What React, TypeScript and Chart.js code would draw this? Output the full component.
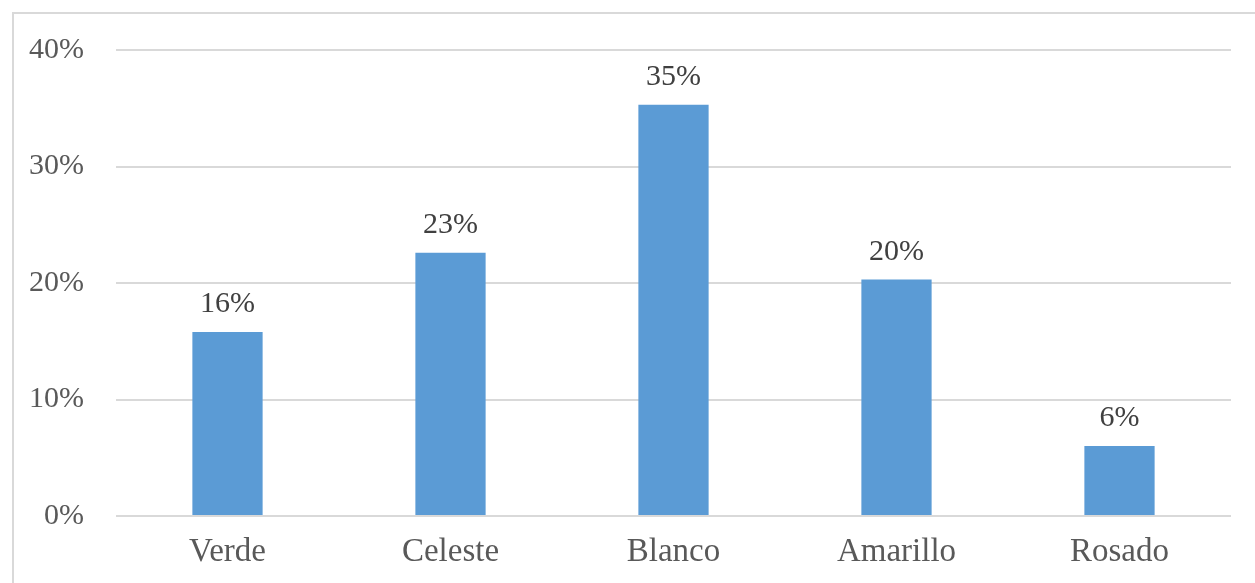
import React, { useEffect, useRef } from "react";
import { Chart, registerables } from "chart.js";

Chart.register(...registerables);

const categories = ["Verde", "Celeste", "Blanco", "Amarillo", "Rosado"];
const values = [15.8, 22.6, 35.3, 20.3, 6.0];
const valueLabels = ["16%", "23%", "35%", "20%", "6%"];
const yTicks = [0, 10, 20, 30, 40];

const FONT = "'Liberation Serif', 'Times New Roman', serif";

const labelPlugin = {
  id: "valueLabels",
  afterDatasetsDraw(chart: any) {
    const ctx = chart.ctx;
    const meta = chart.getDatasetMeta(0);
    ctx.save();
    ctx.font = `30px ${FONT}`;
    ctx.fillStyle = "#404040";
    ctx.textAlign = "center";
    ctx.textBaseline = "alphabetic";
    meta.data.forEach((bar: any, i: number) => {
      ctx.fillText(valueLabels[i], bar.x, bar.y - 20);
    });
    ctx.restore();
  },
};

export default function App() {
  const ref = useRef<HTMLCanvasElement>(null);
  useEffect(() => {
    document.body.style.margin = "0";
    const chart = new Chart(ref.current!, {
      type: "bar",
      data: {
        labels: categories,
        datasets: [
          {
            data: values,
            backgroundColor: "#5B9BD5",
            borderWidth: 0,
            categoryPercentage: 1,
            barPercentage: 0.315,
          },
        ],
      },
      options: {
        animation: false,
        responsive: false,
        maintainAspectRatio: false,
        layout: { padding: { top: 48, right: 24, left: 0, bottom: 0 } },
        plugins: { legend: { display: false }, tooltip: { enabled: false } },
        scales: {
          x: {
            grid: { display: false, drawTicks: false },
            border: { display: false },
            afterFit(scale: any) {
              scale.height = 67;
            },
            ticks: {
              color: "#595959",
              font: { family: FONT, size: 33 },
              padding: 17,
              maxRotation: 0,
            },
          },
          y: {
            min: 0,
            max: 40,
            afterBuildTicks(scale: any) {
              scale.ticks = yTicks.map((v) => ({ value: v }));
            },
            afterFit(scale: any) {
              scale.width = 116;
            },
            grid: { color: "#D9D9D9", lineWidth: 2, drawTicks: false },
            border: { display: false },
            ticks: {
              color: "#595959",
              font: { family: FONT, size: 30 },
              padding: 32,
              callback: (v: any) => `${v}%`,
            },
          },
        },
      },
      plugins: [labelPlugin],
    });
    return () => chart.destroy();
  }, []);
  return (
    <div style={{ position: "absolute", left: 0, top: 0, width: 1255, height: 583, overflow: "hidden", background: "#fff" }}>
      <div style={{ position: "absolute", left: 12, top: 12, width: 1400, height: 700, border: "2px solid #D9D9D9", boxSizing: "border-box" }} />
      <canvas ref={ref} width={1255} height={583} style={{ position: "absolute", left: 0, top: 0 }} />
    </div>
  );
}
